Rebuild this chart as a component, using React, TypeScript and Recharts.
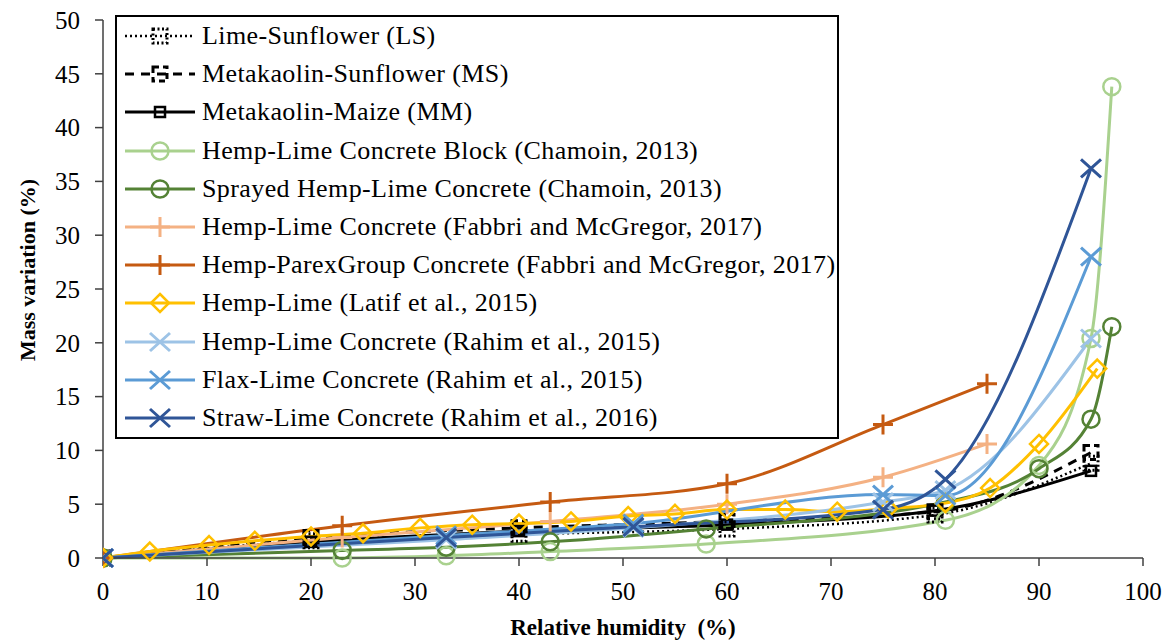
import { LineChart, Line, XAxis, YAxis, Legend, Label } from "recharts";

// relative humidity (%) / mass variation (%) per material
const lsX = [0, 20, 40, 60, 80, 95];
const lsY = [0, 1.6, 2.2, 2.7, 4.0, 8.8];
const msX = [0, 20, 40, 60, 80, 95];
const msY = [0, 1.9, 2.8, 3.4, 4.3, 9.8];
const mmX = [0, 20, 40, 60, 80, 95];
const mmY = [0, 1.5, 2.5, 3.1, 4.4, 8.1];
const blockX = [0, 23, 33, 43, 58, 81, 90, 95, 97];
const blockY = [0, 0, 0.2, 0.6, 1.3, 3.5, 8.6, 20.4, 43.8];
const sprayedX = [0, 23, 33, 43, 58, 81, 90, 95, 97];
const sprayedY = [0, 0.7, 1.0, 1.5, 2.7, 5.2, 8.3, 12.9, 21.5];
const fabbriX = [0, 23, 43, 60, 75, 85];
const fabbriY = [0, 1.9, 3.4, 5.0, 7.5, 10.6];
const parexX = [0, 23, 43, 60, 75, 85];
const parexY = [0, 3.0, 5.2, 6.9, 12.4, 16.2];
const latifX = [0, 4.5, 10.2, 14.6, 20, 25, 30.5, 35.5, 40, 45, 50.5, 55, 60, 65.6, 70.6, 75.5, 81, 85.3, 90, 95.6];
const latifY = [0, 0.6, 1.2, 1.6, 2.0, 2.3, 2.8, 3.1, 3.2, 3.4, 3.9, 4.1, 4.5, 4.5, 4.3, 4.6, 5.1, 6.5, 10.6, 17.6];
const rahimX = [0, 33, 51, 75, 81, 95];
const hempRahimY = [0, 1.7, 2.8, 5.2, 6.3, 20.4];
const flaxY = [0, 2.1, 3.2, 5.9, 5.8, 28.0];
const strawY = [0, 1.9, 2.9, 4.5, 7.3, 36.2];

const xTicks = [0, 10, 20, 30, 40, 50, 60, 70, 80, 90, 100];
const yTicks = [0, 5, 10, 15, 20, 25, 30, 35, 40, 45, 50];

const zip = (xs: number[], ys: number[]) => xs.map((x, i) => ({ x, y: ys[i] }));

type Shape = "dotSquare" | "bracket" | "square" | "circle" | "plus" | "diamond" | "cross";

const series = [
  { name: "Lime-Sunflower (LS)", data: zip(lsX, lsY), color: "#000000", shape: "dotSquare", dash: "2 3", width: 2.5 },
  { name: "Metakaolin-Sunflower (MS)", data: zip(msX, msY), color: "#000000", shape: "bracket", dash: "9 7", width: 3 },
  { name: "Metakaolin-Maize (MM)", data: zip(mmX, mmY), color: "#000000", shape: "square", dash: undefined, width: 3 },
  { name: "Hemp-Lime Concrete Block (Chamoin, 2013)", data: zip(blockX, blockY), color: "#A9D18E", shape: "circle", dash: undefined, width: 3 },
  { name: "Sprayed Hemp-Lime Concrete (Chamoin, 2013)", data: zip(sprayedX, sprayedY), color: "#548235", shape: "circle", dash: undefined, width: 3 },
  { name: "Hemp-Lime Concrete (Fabbri and McGregor, 2017)", data: zip(fabbriX, fabbriY), color: "#F4B183", shape: "plus", dash: undefined, width: 3 },
  { name: "Hemp-ParexGroup Concrete (Fabbri and McGregor, 2017)", data: zip(parexX, parexY), color: "#C55A11", shape: "plus", dash: undefined, width: 3 },
  { name: "Hemp-Lime (Latif et al., 2015)", data: zip(latifX, latifY), color: "#FFC000", shape: "diamond", dash: undefined, width: 3 },
  { name: "Hemp-Lime Concrete (Rahim et al., 2015)", data: zip(rahimX, hempRahimY), color: "#9DC3E6", shape: "cross", dash: undefined, width: 3 },
  { name: "Flax-Lime Concrete (Rahim et al., 2015)", data: zip(rahimX, flaxY), color: "#5B9BD5", shape: "cross", dash: undefined, width: 3 },
  { name: "Straw-Lime Concrete (Rahim et al., 2016)", data: zip(rahimX, strawY), color: "#2F5597", shape: "cross", dash: undefined, width: 3 },
];

const FONT = "Liberation Serif, Times New Roman, serif";

function Marker({ shape, cx, cy, color }: { shape: Shape; cx: number; cy: number; color: string }) {
  switch (shape) {
    case "circle":
      return <circle cx={cx} cy={cy} r={8.5} fill="none" stroke={color} strokeWidth={2.5} />;
    case "diamond":
      return (
        <path
          d={`M${cx},${cy - 9} L${cx + 9},${cy} L${cx},${cy + 9} L${cx - 9},${cy} Z`}
          fill="none"
          stroke={color}
          strokeWidth={2.5}
        />
      );
    case "plus":
      return <path d={`M${cx - 10},${cy} H${cx + 10} M${cx},${cy - 10} V${cy + 10}`} stroke={color} strokeWidth={3} />;
    case "cross":
      return (
        <path
          d={`M${cx - 10},${cy - 9} L${cx + 10},${cy + 9} M${cx - 10},${cy + 9} L${cx + 10},${cy - 9}`}
          stroke={color}
          strokeWidth={3}
        />
      );
    case "square":
      return <rect x={cx - 5} y={cy - 5} width={10} height={10} fill="none" stroke={color} strokeWidth={2.5} />;
    case "bracket":
      return (
        <rect x={cx - 7} y={cy - 7} width={14} height={14} fill="none" stroke={color} strokeWidth={3} strokeDasharray="6 4" />
      );
    default:
      return (
        <rect x={cx - 7} y={cy - 7} width={14} height={14} fill="none" stroke={color} strokeWidth={3} strokeDasharray="2 2.5" />
      );
  }
}

const renderLegend = () => (
  <div
    style={{
      border: "2px solid #000",
      background: "#fff",
      width: 720,
      height: 420,
      boxSizing: "content-box",
      fontFamily: FONT,
      fontSize: 26,
      letterSpacing: 0.4,
      color: "#000",
    }}
  >
    {series.map((s) => (
      <div key={s.name} style={{ display: "flex", alignItems: "center", height: 38.2, paddingLeft: 8 }}>
        <svg width={70} height={24} style={{ marginRight: 7, flex: "none" }}>
          <line x1={0} x2={70} y1={12} y2={12} stroke={s.color} strokeWidth={s.width} strokeDasharray={s.dash} />
          <Marker shape={s.shape as Shape} cx={35} cy={12} color={s.color} />
        </svg>
        <span style={{ whiteSpace: "nowrap" }}>{s.name}</span>
      </div>
    ))}
  </div>
);

export default function App() {
  return (
    <div style={{ position: "absolute", left: 0, top: 0, background: "#fff", fontFamily: FONT }}>
      <LineChart width={1171} height={643} margin={{ top: 20, right: 28, left: 0, bottom: 0 }}>
        <XAxis
          dataKey="x"
          type="number"
          domain={[0, 100]}
          ticks={xTicks}
          allowDataOverflow
          height={85}
          tickSize={8}
          tickMargin={16}
          stroke="#404040"
          strokeWidth={1.5}
          tick={{ fill: "#000", fontSize: 25, fontFamily: FONT }}
        >
          <Label
            value={"Relative humidity\u00A0 (%)"}
            position="insideBottom"
            offset={8}
            style={{ fontFamily: FONT, fontSize: 23, fontWeight: "bold", fill: "#000" }}
          />
        </XAxis>
        <YAxis
          type="number"
          domain={[0, 50]}
          ticks={yTicks}
          width={103}
          tickSize={8}
          tickMargin={15}
          stroke="#404040"
          strokeWidth={1.5}
          tick={{ fill: "#000", fontSize: 25, fontFamily: FONT }}
        >
          <Label
            content={(props: any) => {
              const vb = props.viewBox || { x: 0, y: 20, height: 538 };
              const cx = vb.x + 27;
              const cy = vb.y + vb.height / 2 - 19;
              return (
                <text
                  x={cx}
                  y={cy}
                  transform={`rotate(-90 ${cx} ${cy})`}
                  textAnchor="middle"
                  dominantBaseline="central"
                  style={{ fontFamily: FONT, fontSize: 22, fontWeight: "bold", fill: "#000" }}
                >
                  Mass variation (%)
                </text>
              );
            }}
          />
        </YAxis>
        <Legend
          layout="vertical"
          align="center"
          verticalAlign="middle"
          content={renderLegend}
          wrapperStyle={{ left: 115, top: 15, width: 724 }}
        />
        {series.map((s, si) => (
          <Line
            key={s.name}
            name={s.name}
            data={s.data}
            dataKey="y"
            type="monotone"
            stroke={s.color}
            strokeWidth={s.width}
            strokeDasharray={s.dash}
            isAnimationActive={false}
            dot={(p: any) => (
              <g key={`${si}-${p.index}`}>
                <Marker shape={s.shape as Shape} cx={p.cx} cy={p.cy} color={s.color} />
              </g>
            )}
            activeDot={false}
          />
        ))}
      </LineChart>
    </div>
  );
}
